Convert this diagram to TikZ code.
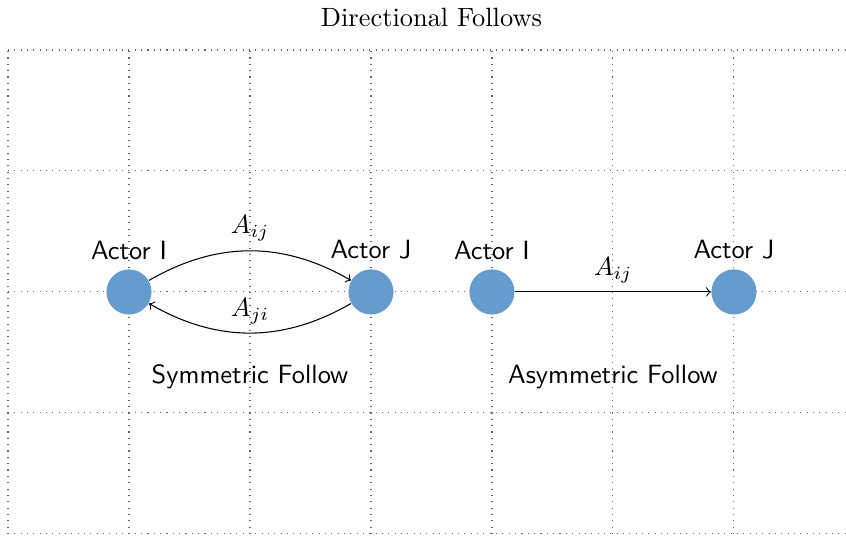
\documentclass[tikz,border=0pt]{standalone}
\usetikzlibrary{arrows}
\definecolor{actorblue}{RGB}{102,155,206}
\begin{document}
\begin{tikzpicture}[x=1.61cm,y=1.61cm,
  actor/.style={circle,fill=actorblue,minimum size=0.6cm,inner sep=0pt},
  alabel/.style={font=\sffamily},
  follow/.style={->}]
\useasboundingbox (-0.066,-0.0165) rectangle (6.926,4.413);
\draw[dotted,gray!80!black,step=1.61cm] (0,0) grid (7,4);
\node (title) at (3.5,4.27) {Directional Follows};
\node[actor,label={[alabel]above:Actor I}] (i1) at (1,2) {};
\node[actor,label={[alabel]above:Actor J}] (j1) at (3,2) {};
\node[actor,label={[alabel]above:Actor I}] (i2) at (4,2) {};
\node[actor,label={[alabel]above:Actor J}] (j2) at (6,2) {};
\draw[follow] (i1) to[bend left=30] node[midway,above] {$A_{ij}$} (j1);
\draw[follow] (j1) to[bend left=30] node[midway,above] {$A_{ji}$} (i1);
\draw[follow] (i2) -- node[midway,above] {$A_{ij}$} (j2);
\node[alabel] (sym) at (2,1.3) {Symmetric Follow};
\node[alabel] (asym) at (5,1.3) {Asymmetric Follow};
\end{tikzpicture}
\end{document}
